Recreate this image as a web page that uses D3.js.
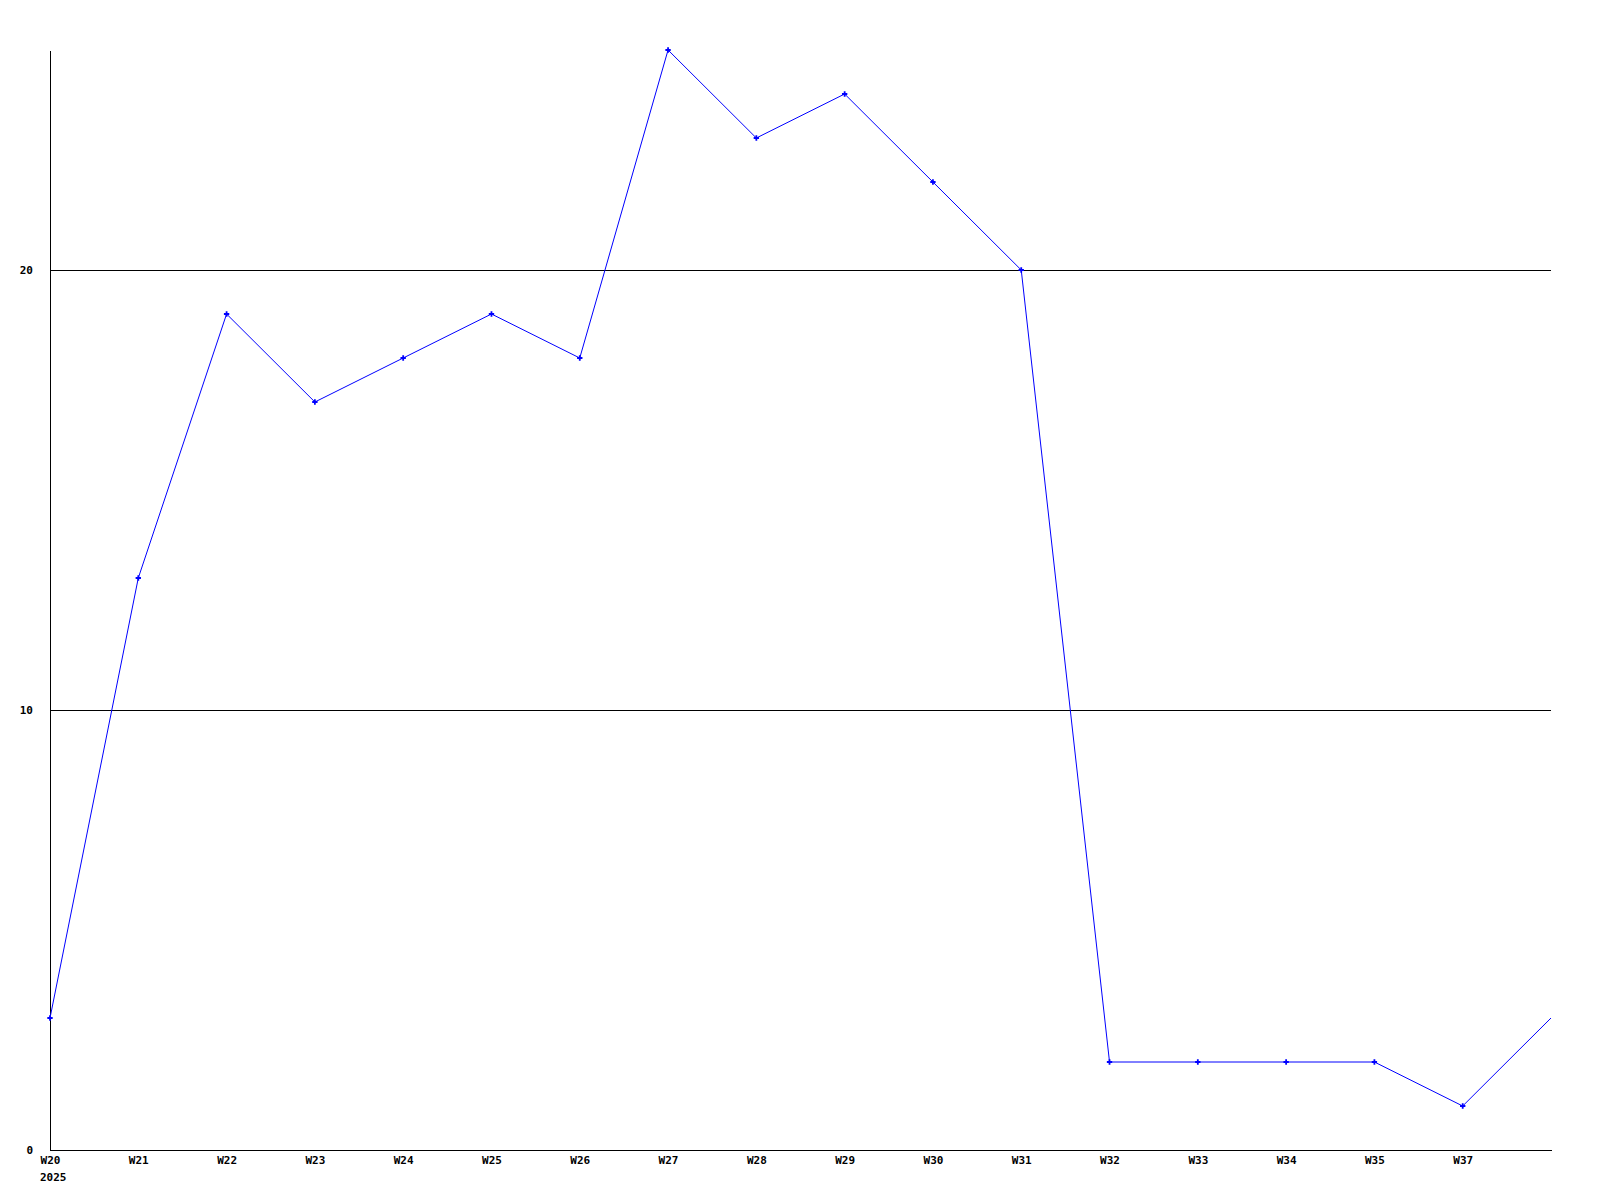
<!DOCTYPE html>
<html>
<head>
<meta charset="utf-8">
<script src="https://cdn.jsdelivr.net/npm/d3@7"></script>
<style>
  body { margin: 0; background: #fff; }
  text { font-family: "DejaVu Sans Mono", "Liberation Mono", monospace; font-weight: bold; font-size: 11px; }
</style>
</head>
<body>
<script>
// week labels along the x axis (the 17th slot is labelled W37, last slot has no label)
const weeks = ['W20', 'W21', 'W22', 'W23', 'W24', 'W25', 'W26', 'W27', 'W28', 'W29',
    'W30', 'W31', 'W32', 'W33', 'W34', 'W35', 'W37', '']
const values = [3, 13, 19, 17, 18, 19, 18, 25, 23, 24, 22, 20, 2, 2, 2, 2, 1, 3]
const yTicks = [0, 10, 20]
const yearLabel = '2025'

// size of the svg and plot edges
const w = 1600
const h = 1200
const pLeft = 50
const pRight = 1551
const pTop = 50
const pBottom = 1150

const xScale = d3.scalePoint()
    .domain(d3.range(weeks.length))
    .range([pLeft, pRight])

const yScale = d3.scaleLinear()
    .domain([0, 25])
    .range([pBottom, pTop])

let svg = d3.select('body')
    .append('svg')
    .attr('width', w)
    .attr('height', h)

// horizontal grid lines
svg.selectAll('line.grid')
    .data(yTicks.filter(d => d > 0))
    .enter()
    .append('line')
    .attr('class', 'grid')
    .attr('x1', pLeft)
    .attr('x2', pRight)
    .attr('y1', d => Math.round(yScale(d)) + 0.5)
    .attr('y2', d => Math.round(yScale(d)) + 0.5)
    .style('stroke', '#000')
    .style('shape-rendering', 'crispEdges')

// y axis
let yAxis = d3.axisLeft(yScale).tickValues(yTicks).tickSize(0).tickPadding(17)
let gy = svg.append('g')
    .attr('transform', `translate(${pLeft},0)`)
    .call(yAxis)
gy.select('.domain').style('stroke', '#000').style('shape-rendering', 'crispEdges')
gy.selectAll('text').style('fill', '#000')

// x axis
let xAxis = d3.axisBottom(xScale).tickFormat(i => weeks[i]).tickSize(0).tickPadding(6)
let gx = svg.append('g')
    .attr('transform', `translate(0,${pBottom})`)
    .call(xAxis)
gx.select('.domain').style('stroke', '#000').style('shape-rendering', 'crispEdges')
gx.selectAll('text').style('fill', '#000')

// year under the first week
svg.append('text')
    .attr('x', xScale(0) - 10)
    .attr('y', pBottom + 31)
    .text(yearLabel)

// the line
const line = d3.line()
    .x((d, i) => xScale(i))
    .y(d => yScale(d))

svg.append('path')
    .datum(values)
    .attr('d', line)
    .style('fill', 'none')
    .style('stroke', '#0000ff')
    .style('stroke-width', 1)

// point markers (none on the last point)
svg.selectAll('path.dot')
    .data(values.slice(0, -1))
    .enter()
    .append('path')
    .attr('class', 'dot')
    .attr('d', d3.symbol().type(d3.symbolCross).size(16))
    .attr('transform', (d, i) => `translate(${xScale(i)},${yScale(d)})`)
    .style('fill', '#0000ff')
</script>
</body>
</html>
